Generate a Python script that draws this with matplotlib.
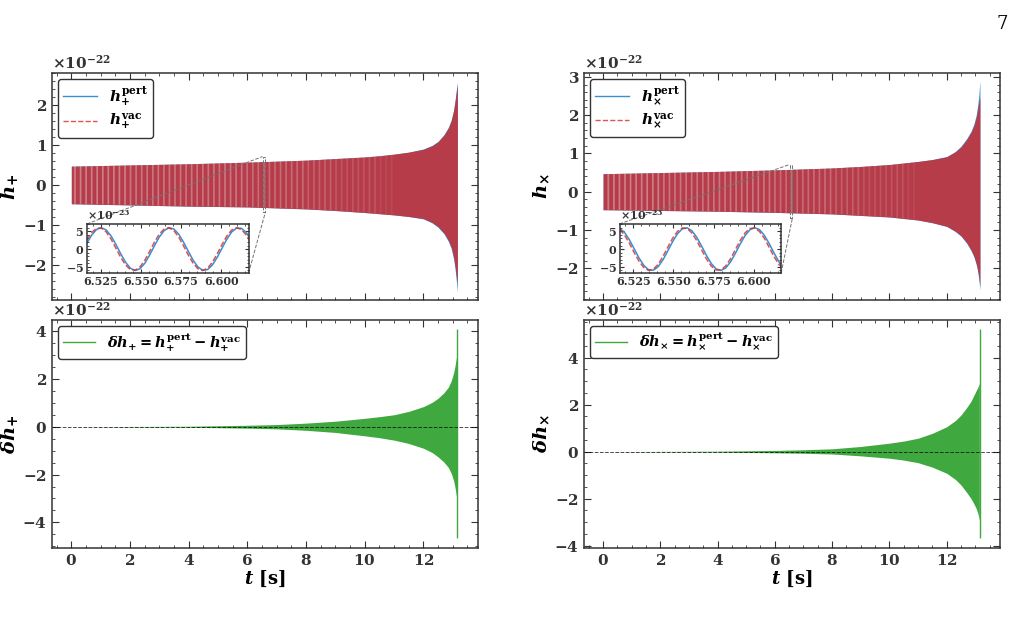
import numpy as np
import matplotlib
matplotlib.use("Agg")
import matplotlib.pyplot as plt
from matplotlib.lines import Line2D
from matplotlib.ticker import AutoMinorLocator, FormatStrFormatter
from mpl_toolkits.axes_grid1.inset_locator import mark_inset

plt.rcParams.update({
    "font.family": "DejaVu Serif",
    "font.weight": "bold",
    "mathtext.fontset": "custom",
    "mathtext.rm": "DejaVu Serif:bold",
    "mathtext.it": "DejaVu Serif:italic:bold",
    "mathtext.bf": "DejaVu Serif:bold",
    "axes.formatter.use_mathtext": True,
    "xtick.direction": "in",
    "ytick.direction": "in",
    "xtick.top": True,
    "ytick.right": True,
    "axes.edgecolor": "#333333",
    "xtick.color": "#333333",
    "ytick.color": "#333333",
    "axes.linewidth": 1.1,
    "hatch.linewidth": 1.2,
})

# envelope of the waveforms (units of 1e-22)
t_env = np.array([0, 2, 4, 6, 8, 9, 10, 10.5, 11, 11.5, 12, 12.3, 12.5, 12.7, 12.85,
                  12.95, 13.03, 13.08, 13.12, 13.16])
hp_vac_hi = np.array([0.47, 0.50, 0.53, 0.57, 0.62, 0.66, 0.70, 0.73, 0.77, 0.82, 0.89, 0.98,
                      1.08, 1.24, 1.42, 1.60, 1.85, 2.08, 2.30, 2.50])
hp_vac_lo = np.array([-0.47, -0.50, -0.53, -0.55, -0.60, -0.64, -0.69, -0.72, -0.75, -0.79,
                      -0.84, -0.94, -1.04, -1.20, -1.38, -1.55, -1.80, -2.03, -2.25, -2.45])
hp_pert_hi = np.array([0.47, 0.50, 0.53, 0.57, 0.62, 0.66, 0.70, 0.73, 0.77, 0.82, 0.90, 0.99,
                       1.09, 1.26, 1.44, 1.63, 1.88, 2.12, 2.36, 2.58])
hp_pert_lo = np.array([-0.47, -0.50, -0.53, -0.55, -0.60, -0.64, -0.69, -0.72, -0.75, -0.79,
                       -0.85, -0.95, -1.06, -1.22, -1.41, -1.59, -1.85, -2.10, -2.38, -2.68])
hx_vac_hi = np.array([0.47, 0.50, 0.53, 0.57, 0.62, 0.66, 0.71, 0.75, 0.79, 0.84, 0.91, 1.04,
                      1.17, 1.36, 1.55, 1.72, 1.93, 2.12, 2.30, 2.46])
hx_vac_lo = np.array([-0.47, -0.49, -0.51, -0.54, -0.58, -0.62, -0.66, -0.70, -0.74, -0.81,
                      -0.90, -1.03, -1.15, -1.33, -1.52, -1.68, -1.87, -2.03, -2.20, -2.49])
hx_pert_hi = np.array([0.47, 0.50, 0.53, 0.57, 0.62, 0.66, 0.71, 0.75, 0.79, 0.84, 0.92, 1.05,
                       1.19, 1.39, 1.58, 1.77, 2.00, 2.25, 2.50, 2.89])
hx_pert_lo = np.array([-0.47, -0.49, -0.51, -0.54, -0.58, -0.62, -0.66, -0.70, -0.74, -0.81,
                       -0.91, -1.04, -1.16, -1.35, -1.54, -1.70, -1.90, -2.08, -2.28, -2.57])

# difference envelopes (units of 1e-22)
t_diff = np.array([0, 2, 4, 6, 7, 8, 9, 10, 10.5, 11, 11.5, 12, 12.3, 12.5, 12.7, 12.85,
                   12.95, 13.03, 13.08, 13.12, 13.14])
dhp_hi = np.array([0.0, 0.01, 0.02, 0.06, 0.09, 0.15, 0.23, 0.35, 0.42, 0.50, 0.64, 0.84,
                   1.02, 1.19, 1.42, 1.65, 1.92, 2.25, 2.55, 2.85, 2.95])
dhp_lo = np.array([0.0, -0.01, -0.02, -0.06, -0.09, -0.15, -0.24, -0.38, -0.46, -0.56, -0.70,
                   -0.90, -1.08, -1.26, -1.48, -1.70, -1.95, -2.25, -2.55, -2.85, -2.95])
dhx_hi = np.array([0.0, 0.01, 0.02, 0.05, 0.08, 0.12, 0.22, 0.36, 0.45, 0.57, 0.78, 1.06,
                   1.32, 1.56, 1.88, 2.15, 2.40, 2.60, 2.72, 2.84, 2.90])
dhx_lo = np.array([0.0, -0.01, -0.02, -0.05, -0.07, -0.10, -0.18, -0.28, -0.36, -0.47, -0.66,
                   -0.92, -1.18, -1.42, -1.74, -2.00, -2.22, -2.42, -2.60, -2.80, -2.90])
spike_t = 13.15
dhp_spike = (-4.66, 4.09)
dhx_spike = (-3.69, 5.22)

# zoomed-in waveform samples (units of 1e-23)
t_in = np.array([6.5165, 6.5195, 6.5225, 6.5255, 6.5285, 6.5315, 6.5345, 6.5375, 6.5405,
                 6.5435, 6.5465, 6.5495, 6.5525, 6.5555, 6.5585, 6.5615, 6.5645, 6.5675,
                 6.5705, 6.5735, 6.5765, 6.5795, 6.5825, 6.5855, 6.5885, 6.5915, 6.5945,
                 6.5975, 6.6005, 6.6035, 6.6065, 6.6095, 6.6125, 6.6155, 6.6185])
hp_pert_in = [1.67, 3.99, 5.55, 6.05, 5.39, 3.71, 1.32, -1.32, -3.71, -5.40, -6.05, -5.55,
              -3.99, -1.67, 0.97, 3.43, 5.22, 6.03, 5.68, 4.25, 2.00, -0.62, -3.13, -5.04,
              -5.99, -5.79, -4.49, -2.33, 0.27, 2.82, 4.83, 5.92, 5.88, 4.72, 2.66]
hp_vac_in = [2.66, 4.72, 5.88, 5.92, 4.83, 2.82, 0.27, -2.34, -4.49, -5.79, -5.98, -5.04,
             -3.13, -0.62, 2.00, 4.25, 5.68, 6.03, 5.22, 3.42, 0.97, -1.67, -3.99, -5.55,
             -6.05, -5.39, -3.71, -1.32, 1.32, 3.71, 5.40, 6.05, 5.55, 3.99, 1.67]
hx_pert_in = [5.90, 4.78, 2.74, 0.18, -2.42, -4.55, -5.82, -5.97, -4.99, -3.05, -0.53, 2.09,
              4.31, 5.71, 6.02, 5.18, 3.35, 0.88, -1.75, -4.05, -5.58, -6.04, -5.35, -3.64,
              -1.23, 1.41, 3.78, 5.43, 6.05, 5.51, 3.92, 1.58, -1.06, -3.50, -5.27]
hx_vac_in = [5.58, 4.05, 1.75, -0.88, -3.35, -5.18, -6.02, -5.71, -4.31, -2.09, 0.53, 3.05,
             4.99, 5.97, 5.82, 4.55, 2.42, -0.18, -2.74, -4.78, -5.90, -5.90, -4.78, -2.74,
             -0.18, 2.42, 4.55, 5.82, 5.97, 4.99, 3.05, 0.53, -2.09, -4.31, -5.71]

blue = "#3a8fd0"
red = "#d62728"
green = "#3fa83f"

fig = plt.figure(figsize=(10.23, 6.19), dpi=100)

columns = [
    dict(x0=0.0508, w=0.4164, ins_x0=0.0850, sym="+",
         pert=(hp_pert_lo, hp_pert_hi), vac=(hp_vac_lo, hp_vac_hi),
         dlo=dhp_lo, dhi=dhp_hi, spike=dhp_spike, pin=hp_pert_in, vin=hp_vac_in,
         ylim_top=(-2.88, 2.80), ylim_bot=(-5.07, 4.46)),
    dict(x0=0.5709, w=0.4066, ins_x0=0.6056, sym=r"\times",
         pert=(hx_pert_lo, hx_pert_hi), vac=(hx_vac_lo, hx_vac_hi),
         dlo=dhx_lo, dhi=dhx_hi, spike=dhx_spike, pin=hx_pert_in, vin=hx_vac_in,
         ylim_top=(-2.83, 3.10), ylim_bot=(-4.10, 5.60)),
]

for c in columns:
    s = c["sym"]
    ax = fig.add_axes([c["x0"], 0.5153, c["w"], 0.3667])
    axb = fig.add_axes([c["x0"], 0.1147, c["w"], 0.3683], sharex=ax)

    # top: pert and vac waveforms (dense oscillation shown as its envelope)
    ax.fill_between(t_env, c["pert"][0] * 1e-22, c["pert"][1] * 1e-22, color=blue, lw=0)
    ax.fill_between(t_env, c["vac"][0] * 1e-22, c["vac"][1] * 1e-22, color=red, alpha=0.8, lw=0)
    # lighter, striped look where the oscillations are still resolved
    for t_cut in (3, 6, 8, 9.5, 10.5, 11.3):
        ax.fill_between(t_env, c["vac"][0] * 1e-22, c["vac"][1] * 1e-22,
                        where=t_env <= t_cut, interpolate=True, facecolor="none",
                        edgecolor=(1, 1, 1, 0.07), hatch="|||", lw=0)
    ax.set_xlim(-0.66, 13.86)
    ax.set_ylim(c["ylim_top"][0] * 1e-22, c["ylim_top"][1] * 1e-22)
    ax.set_ylabel(r"$h_{%s}$" % s, fontsize=14, labelpad=2)
    ax.tick_params(labelbottom=False)
    handles = [Line2D([], [], color=blue, lw=1.0),
               Line2D([], [], color=red, lw=1.0, ls="--", alpha=0.8)]
    labels = [r"$h_{%s}^{\mathrm{pert}}$" % s, r"$h_{%s}^{\mathrm{vac}}$" % s]
    ax.legend(handles, labels, loc="upper left", fontsize=11, framealpha=1,
              edgecolor="#333333", borderaxespad=0.4, labelspacing=0.3,
              handlelength=2.2, borderpad=0.35)

    # bottom: difference
    axb.fill_between(t_diff, c["dlo"] * 1e-22, c["dhi"] * 1e-22, color=green, lw=0)
    axb.vlines(spike_t, c["spike"][0] * 1e-22, c["spike"][1] * 1e-22, color=green, lw=1.0)
    axb.axhline(0, color="k", ls="--", lw=0.7, alpha=0.7)
    axb.set_ylim(c["ylim_bot"][0] * 1e-22, c["ylim_bot"][1] * 1e-22)
    axb.set_ylabel(r"$\delta h_{%s}$" % s, fontsize=14, labelpad=2)
    axb.set_xlabel(r"$t\ [\mathrm{s}]$", fontsize=13, labelpad=1)
    axb.legend([Line2D([], [], color=green, lw=1.0)],
               [r"$\delta h_{%s} = h_{%s}^{\mathrm{pert}} - h_{%s}^{\mathrm{vac}}$" % (s, s, s)],
               loc="upper left", fontsize=10.5, framealpha=1, edgecolor="#333333",
               borderaxespad=0.4, handlelength=2.2, borderpad=0.35)

    for a in (ax, axb):
        a.xaxis.set_minor_locator(AutoMinorLocator())
        a.yaxis.set_minor_locator(AutoMinorLocator())
        a.tick_params(which="major", length=5, labelsize=11)
        a.tick_params(which="minor", length=2.5)
        a.yaxis.get_offset_text().set_fontsize(11)

    # inset zoom
    axins = fig.add_axes([c["ins_x0"], 0.559, 0.158, 0.0792])
    axins.plot(t_in, np.array(c["pin"]) * 1e-23, color=blue, lw=1.1)
    axins.plot(t_in, np.array(c["vin"]) * 1e-23, color=red, lw=1.1, ls="--", alpha=0.8)
    axins.set_xlim(6.5165, 6.617)
    axins.set_ylim(-6.75e-23, 7.1e-23)
    axins.set_xticks([6.525, 6.55, 6.575, 6.6])
    axins.xaxis.set_major_formatter(FormatStrFormatter("%.3f"))
    axins.set_yticks([-5e-23, 0, 5e-23])
    axins.xaxis.set_minor_locator(AutoMinorLocator())
    axins.yaxis.set_minor_locator(AutoMinorLocator())
    axins.tick_params(which="major", length=3, labelsize=8, pad=2)
    axins.tick_params(which="minor", length=1.5)
    axins.yaxis.get_offset_text().set_fontsize(8)
    mark_inset(ax, axins, loc1=2, loc2=4, fc="none", ec="0.45", ls="--", lw=0.7)

fig.text(0.985, 0.975, "7", ha="right", va="top", fontsize=13, fontweight="normal")

fig.savefig("out.png", dpi=100)
